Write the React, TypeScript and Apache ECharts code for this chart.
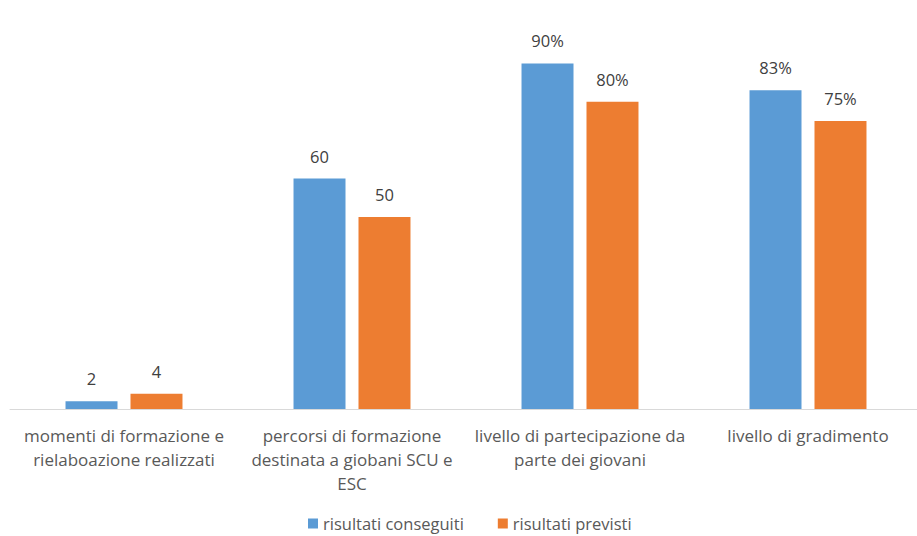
import React, { useEffect, useRef } from "react";
import * as echarts from "echarts";

const categories = [
  "momenti di formazione e\nrielaboazione realizzati",
  "percorsi di formazione\ndestinata a giobani SCU e\nESC",
  "livello di partecipazione da\nparte dei giovani",
  "livello di gradimento",
];
const valueSuffix = ["", "", "%", "%"];
const conseguiti = [2, 60, 90, 83];
const previsti = [4, 50, 80, 75];
const seriesNames = ["risultati conseguiti", "risultati previsti"];

const FONT = "'Open Sans', 'Noto Sans', sans-serif";

export default function App() {
  const ref = useRef<HTMLDivElement>(null);
  useEffect(() => {
    if (!ref.current) return;
    const chart = echarts.init(ref.current, null, { renderer: "svg" });
    const label = {
      show: true,
      position: "top",
      distance: 14,
      color: "#404040",
      fontSize: 16.5,
      fontFamily: FONT,
      formatter: (p: any) => `${p.value}${valueSuffix[p.dataIndex]}`,
    };
    chart.setOption({
      animation: false,
      textStyle: { fontFamily: FONT },
      grid: { left: 10, width: 912, top: 25, height: 384, containLabel: false },
      legend: {
        top: 510,
        left: 303,
        itemWidth: 10,
        itemHeight: 10,
        itemGap: 34,
        icon: "rect",
        textStyle: { color: "#595959", fontSize: 16.5, fontFamily: FONT },
        data: seriesNames,
      },
      xAxis: {
        type: "category",
        data: categories,
        axisLine: { lineStyle: { color: "#D9D9D9", width: 1 } },
        axisTick: { show: false },
        axisLabel: {
          color: "#595959",
          fontSize: 17,
          fontFamily: FONT,
          lineHeight: 24,
          margin: 14,
          interval: 0,
        },
      },
      yAxis: {
        type: "value",
        min: 0,
        max: 100,
        show: false,
        splitLine: { show: false },
      },
      series: [
        {
          name: seriesNames[0],
          type: "bar",
          data: conseguiti,
          itemStyle: { color: "#5B9BD5" },
          barGap: "25%",
          barCategoryGap: "48.7%",
          label,
        },
        {
          name: seriesNames[1],
          type: "bar",
          data: previsti,
          itemStyle: { color: "#ED7D31" },
          label,
        },
      ],
    });
    return () => chart.dispose();
  }, []);
  return (
    <div style={{ position: "absolute", left: 0, top: 0, width: 917, height: 536, overflow: "hidden" }}>
      <div ref={ref} style={{ width: 930, height: 536 }} />
    </div>
  );
}
